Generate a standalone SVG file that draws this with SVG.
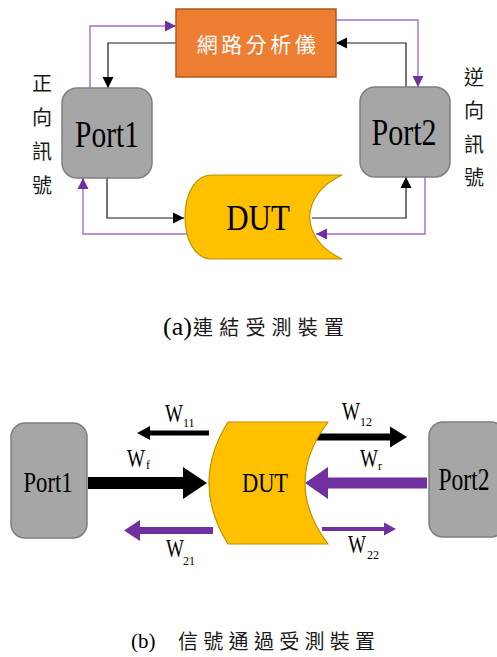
<svg xmlns="http://www.w3.org/2000/svg" width="497" height="657" viewBox="0 0 497 657">
<style>
.port{fill:#A6A6A6;stroke:#7F7F7F;stroke-width:1.5}
.dut{fill:#FFC000;stroke:#BF9000;stroke-width:1.2}
.lat{font-family:"Liberation Serif","Times New Roman",serif;fill:#000}
.cjk{font-family:"Noto Sans CJK TC","Noto Sans CJK SC",sans-serif;fill:#1a1a1a;font-size:20px}
.blk{fill:none;stroke:#1a1a1a;stroke-width:1.2}
.pur{fill:none;stroke:#9C6FCC;stroke-width:1.4}
.sub{font-size:12px}
</style>
<defs>
<marker id="ab" markerUnits="userSpaceOnUse" markerWidth="12" markerHeight="12" refX="11" refY="6" orient="auto">
<path d="M0,0.5 L11,6 L0,11.5 z" fill="#000"/>
</marker>
<marker id="ap" markerUnits="userSpaceOnUse" markerWidth="12" markerHeight="12" refX="11" refY="6" orient="auto">
<path d="M0,0.5 L11,6 L0,11.5 z" fill="#7030A0"/>
</marker>
</defs>

<g id="connectors">
<path class="pur" d="M90,88 V26 H176" marker-end="url(#ap)"/>
<path class="blk" d="M176,43 H108 V88" marker-end="url(#ab)"/>
<path class="blk" d="M107,178 V218 H184" marker-end="url(#ab)"/>
<path class="pur" d="M187,234 H83 V178" marker-end="url(#ap)"/>
<path class="pur" d="M336,20 H418 V87" marker-end="url(#ap)"/>
<path class="blk" d="M406,87 V43 H336" marker-end="url(#ab)"/>
<path class="blk" d="M312,218 H406 V177" marker-end="url(#ab)"/>
<path class="pur" d="M425,177 V234 H316" marker-end="url(#ap)"/>

<polygon id="a-w11" fill="#000" points="209,430.5 150,430.5 150,426 137,433 150,440 150,435.5 209,435.5"/>
<polygon id="a-wf" fill="#000" points="88,477 183,477 183,467 207,483 183,499 183,489 88,489"/>
<polygon id="a-w21" fill="#7030A0" points="213,527 140,527 140,520 124,530.5 140,541 140,534 213,534"/>
<polygon id="a-w12" fill="#000" points="317,433.5 390,433.5 390,426.5 407,437 390,447.5 390,440.5 317,440.5"/>
<polygon id="a-wr" fill="#7030A0" points="427,477.5 328,477.5 328,467 305,483 328,499 328,488.5 427,488.5"/>
<polygon id="a-w22" fill="#7030A0" points="322,527 384,527 384,522.5 396,529 384,535.5 384,531 322,531"/>
</g>

<g id="analyzer">
<rect x="176" y="9" width="160" height="68" fill="#ED7D31" stroke="#AE5A21" stroke-width="1.5"/>
<text class="cjk" x="258" y="52" text-anchor="middle" style="fill:#fff;font-size:21px" letter-spacing="3.5">網路分析儀</text>
</g>

<g id="port1a">
<rect class="port" x="62" y="88" width="90" height="90" rx="15"/>
<text class="lat" transform="translate(107,147) scale(1,1.28)" font-size="29.5" text-anchor="middle">Port1</text>
</g>

<g id="port2a">
<rect class="port" x="360" y="87" width="90" height="90" rx="15"/>
<text class="lat" transform="translate(404,145) scale(1,1.28)" font-size="30" text-anchor="middle">Port2</text>
</g>

<g id="duta">
<path class="dut" d="M212,175 L342,175 C299,195 299,239 342,259 L212,259 C176,259 176,175 212,175 Z"/>
<text class="lat" transform="translate(258,230) scale(1,1.17)" font-size="31" text-anchor="middle">DUT</text>
</g>

<g id="label-forward">
<text class="cjk" x="42" y="91" text-anchor="middle">正</text>
<text class="cjk" x="42" y="125" text-anchor="middle">向</text>
<text class="cjk" x="42" y="159" text-anchor="middle">訊</text>
<text class="cjk" x="42" y="193" text-anchor="middle">號</text>
</g>
<g id="label-reverse">
<text class="cjk" x="474" y="85" text-anchor="middle">逆</text>
<text class="cjk" x="474" y="118" text-anchor="middle">向</text>
<text class="cjk" x="474" y="152" text-anchor="middle">訊</text>
<text class="cjk" x="474" y="185" text-anchor="middle">號</text>
</g>

<g id="caption-a">
<text class="lat" x="163" y="335" font-size="26">(a)</text>
<text class="cjk" x="193" y="335" letter-spacing="6.2">連結受測裝置</text>
</g>

<g id="port1b">
<rect class="port" x="11" y="423" width="76" height="115" rx="14"/>
<text class="lat" transform="translate(48,492) scale(1,1.33)" font-size="22.6" text-anchor="middle">Port1</text>
</g>

<g id="port2b">
<rect class="port" x="429" y="422" width="76" height="115" rx="14"/>
<text class="lat" transform="translate(464,490) scale(1,1.33)" font-size="23.5" text-anchor="middle">Port2</text>
</g>

<g id="dutb">
<path class="dut" d="M228,422 L328,422 Q282,483 328,544 L228,544 Q190,483 228,422 Z"/>
<text class="lat" transform="translate(265,492) scale(1,1.24)" font-size="22.5" text-anchor="middle">DUT</text>
</g>

<g id="labels-w">
<text class="lat" transform="translate(165,422) scale(1,1.35)" font-size="19">W</text>
<text class="lat sub" x="183" y="427">11</text>
<text class="lat" transform="translate(127,467) scale(1,1.35)" font-size="19">W</text>
<text class="lat sub" x="146" y="469">f</text>
<text class="lat" transform="translate(166,557) scale(1,1.35)" font-size="19">W</text>
<text class="lat sub" x="183" y="565">21</text>
<text class="lat" transform="translate(342,420) scale(1,1.35)" font-size="19">W</text>
<text class="lat sub" x="360" y="426">12</text>
<text class="lat" transform="translate(360,467) scale(1,1.35)" font-size="19">W</text>
<text class="lat sub" x="378" y="470">r</text>
<text class="lat" transform="translate(348,553) scale(1,1.35)" font-size="19">W</text>
<text class="lat sub" x="367" y="559">22</text>
</g>

<g id="caption-b">
<text class="lat" x="131" y="648" font-size="21">(b)</text>
<text class="cjk" x="178" y="649" letter-spacing="5.3">信號通過受測裝置</text>
</g>
</svg>
